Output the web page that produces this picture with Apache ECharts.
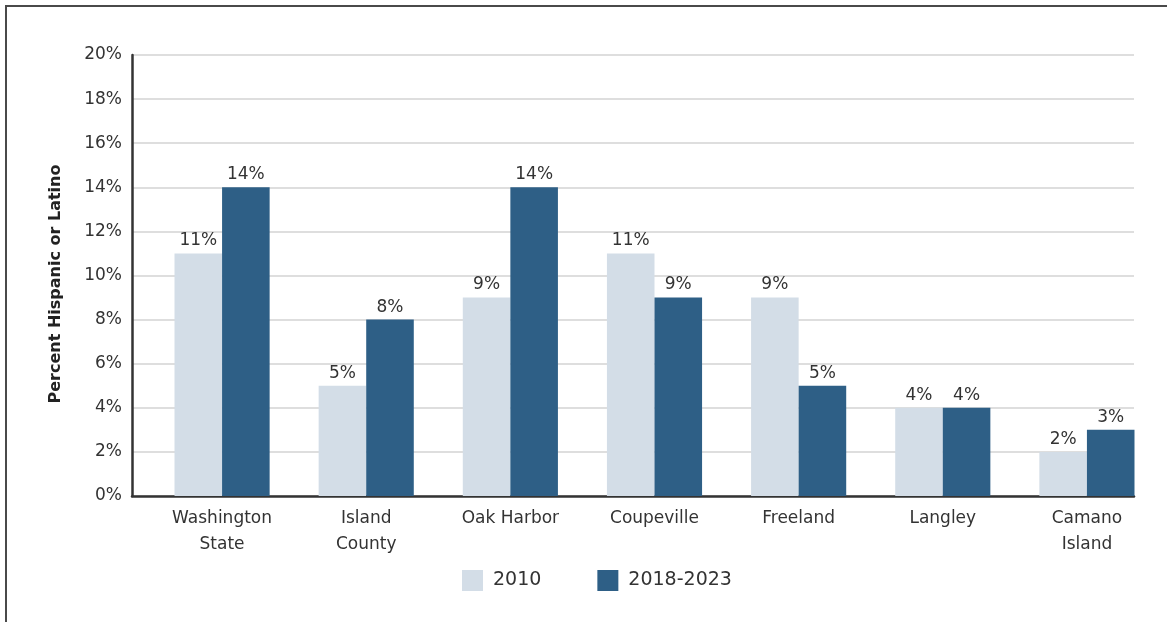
<!DOCTYPE html>
<html>
<head>
<meta charset="utf-8">
<script src="https://cdn.jsdelivr.net/npm/echarts@6/dist/echarts.min.js"></script>
<style>
  html, body { margin: 0; padding: 0; background: #fff; }
  #frame { position: absolute; left: 5px; top: 5px; width: 1180px; height: 640px; border: 2px solid #4a4a4a; box-sizing: border-box; }
  #chart { position: absolute; left: 0; top: 0; width: 1167px; height: 622px; }
</style>
</head>
<body>
<div id="frame"></div>
<div id="chart"></div>
<script>
// Share of population that is Hispanic or Latino, by place
const categories = ['Washington\nState', 'Island\nCounty', 'Oak Harbor', 'Coupeville', 'Freeland', 'Langley', 'Camano\nIsland'];
const values2010 = [11, 5, 9, 11, 9, 4, 2];
const values2018_2023 = [14, 8, 14, 9, 5, 4, 3];
const seriesNames = ['2010', '2018-2023'];
const yTicks = [0, 2, 4, 6, 8, 10, 12, 14, 16, 18, 20];

const FONT = '"DejaVu Sans", "Liberation Sans", sans-serif';
const TEXT = '#333';
const chart = echarts.init(document.getElementById('chart'), null, { renderer: 'canvas' });

const yMin = yTicks[0];
const yMax = yTicks[yTicks.length - 1];

const labelStyle = {
  show: true,
  position: 'top',
  distance: 4,
  formatter: p => p.value + '%',
  color: TEXT,
  fontFamily: FONT,
  fontSize: 17
};

chart.setOption({
  animation: false,
  textStyle: { fontFamily: FONT },
  // grid 0 carries the axis frame and gridlines; grid 1 carries the bar groups,
  // which sit slightly to the right of the frame (last pair reaches its edge)
  grid: [
    { left: 132, right: 33, top: 55, bottom: 126, containLabel: false },
    { left: 150, right: 8, top: 55, bottom: 126, containLabel: false }
  ],
  legend: {
    data: seriesNames,
    bottom: 31,
    left: 462,
    itemWidth: 21,
    itemHeight: 21,
    itemGap: 56,
    icon: 'rect',
    padding: 0,
    textStyle: { color: TEXT, fontSize: 19, fontFamily: FONT, padding: [0, 0, 0, 5] }
  },
  xAxis: [
    {
      gridIndex: 0,
      type: 'value',
      min: 0,
      max: 1,
      axisLine: { show: true, onZero: false, lineStyle: { color: '#333', width: 2.5 } },
      axisTick: { show: false },
      axisLabel: { show: false },
      splitLine: { show: false }
    },
    {
      gridIndex: 1,
      type: 'category',
      data: categories,
      axisLine: { show: false },
      axisTick: { show: false },
      axisLabel: { color: TEXT, fontSize: 17, fontFamily: FONT, lineHeight: 26, margin: 10, interval: 0 }
    }
  ],
  yAxis: [
    {
      gridIndex: 0,
      type: 'value',
      min: yMin,
      max: yMax,
      interval: 2,
      name: 'Percent Hispanic or Latino',
      nameLocation: 'middle',
      nameGap: 68,
      nameTextStyle: { color: '#222', fontSize: 16, fontWeight: 'bold', fontFamily: FONT, padding: [0, 17, 0, 0] },
      axisLine: { show: true, lineStyle: { color: '#333', width: 2.5 } },
      axisTick: { show: false },
      axisLabel: { color: TEXT, fontSize: 17, fontFamily: FONT, margin: 10, formatter: v => v + '%' },
      splitLine: { show: true, lineStyle: { color: '#dedede', width: 2 } }
    },
    {
      gridIndex: 1,
      type: 'value',
      min: yMin,
      max: yMax,
      interval: 2,
      axisLine: { show: false },
      axisTick: { show: false },
      axisLabel: { show: false },
      splitLine: { show: false }
    }
  ],
  series: [
    {
      name: seriesNames[0],
      type: 'bar',
      xAxisIndex: 1,
      yAxisIndex: 1,
      data: values2010,
      itemStyle: { color: '#d3dde7' },
      barGap: '0%',
      barCategoryGap: '34%',
      label: labelStyle
    },
    {
      name: seriesNames[1],
      type: 'bar',
      xAxisIndex: 1,
      yAxisIndex: 1,
      data: values2018_2023,
      itemStyle: { color: '#2e5f86' },
      barGap: '0%',
      barCategoryGap: '34%',
      label: labelStyle
    }
  ]
});
</script>
</body>
</html>
